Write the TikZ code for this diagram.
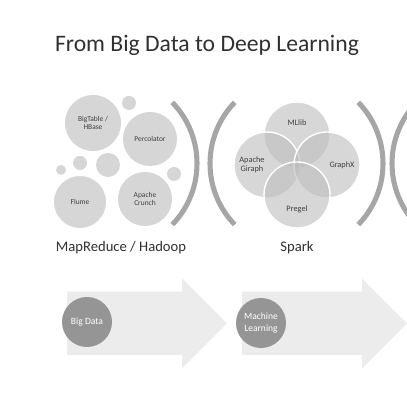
\documentclass[tikz,border=0pt]{standalone}
\usepackage{fontspec}
\setmainfont{Carlito}
\usetikzlibrary{positioning,calc}
\definecolor{dtext}{HTML}{303030}
\definecolor{ctext}{HTML}{404040}
\definecolor{bubgray}{HTML}{D6D6D6}
\definecolor{venngray}{HTML}{BDBDBD}
\definecolor{arcgray}{HTML}{A6A6A6}
\definecolor{arrgray}{HTML}{ECECEC}
\definecolor{stepgray}{HTML}{959595}
\tikzset{
  ttl/.style={font=\fontsize{16.8}{20}\selectfont,text=dtext},
  caplbl/.style={font=\fontsize{10.4}{12}\selectfont,text=dtext},
  bub/.style={circle,fill=bubgray,minimum size=#1*0.05cm,inner sep=0pt,align=center,font=\fontsize{5.3}{6}\selectfont,text=ctext},
  venn/.style={circle,fill=venngray,fill opacity=0.6,draw=white,line width=1pt,minimum size=66*0.025cm,inner sep=0pt},
  vlbl/.style={align=center,font=\fontsize{5.9}{6.5}\selectfont,text=ctext},
  bracket/.style={draw=arcgray,line width=3.6pt},
  stepdot/.style={circle,fill=stepgray,minimum size=50*0.025cm,inner sep=0pt,align=center,font=\fontsize{6.8}{8.8}\selectfont,text=white},
}
\begin{document}
\begin{tikzpicture}[x=0.025cm,y=0.025cm]
  \useasboundingbox (0,0) rectangle (407,405);
  \node[ttl] (title) at (207,360) {From Big Data to Deep Learning};
  % hadoop bubbles
  \foreach \x/\y/\r in {129/302/7, 80/242/7, 61/235/5, 108/240/12, 174/231/7}
    \fill[bubgray] (\x,\y) circle (\r);
  \node[bub=28] (bigtable) at (93,282) {BigTable /\\HBase};
  \node[bub=27] (percolator) at (150,266) {Percolator};
  \node[bub=26] (flume) at (80,203) {Flume};
  \node[bub=27] (crunch) at (145,206) {Apache\\Crunch};
  \node[caplbl] (hadoop) at (121,157) {MapReduce / Hadoop};
  % brackets
  \foreach \cx/\a in {109/0, 298/180, 295/0, 480/180}
    \draw[bracket] ($(\cx,241.5)+({\a-44}:88)$) arc[start angle=\a-44, end angle=\a+44, radius=88];
  % spark venn
  \node[venn] (mllib) at (297,270) {};
  \node[venn] (giraph) at (267,240) {};
  \node[venn] (graphx) at (327,240) {};
  \node[venn] (pregel) at (297,210) {};
  \node[vlbl] (mlliblbl) at ($(mllib)+(0,12)$) {MLlib};
  \node[vlbl] (giraphlbl) at ($(giraph)+(-15,0)$) {Apache\\Giraph};
  \node[vlbl] (graphxlbl) at ($(graphx)+(15,0)$) {GraphX};
  \node[vlbl] (pregellbl) at ($(pregel)+(0,-14)$) {Pregel};
  \node[caplbl] (spark) at (297,157) {Spark};
  % steps
  \foreach \x/\l in {67/115, 242/120}
    \fill[arrgray] (\x,50) -- ++(\l,0) -- ++(0,-13.3) -- ++(45,45) -- ++(-45,45) -- ++(0,-13.4) -- (\x,113.3) -- cycle;
  \node[stepdot] (bigdata) at (87,83) {Big Data};
  \node[stepdot] (ml) at (261,82) {Machine\\Learning};
\end{tikzpicture}
\end{document}
